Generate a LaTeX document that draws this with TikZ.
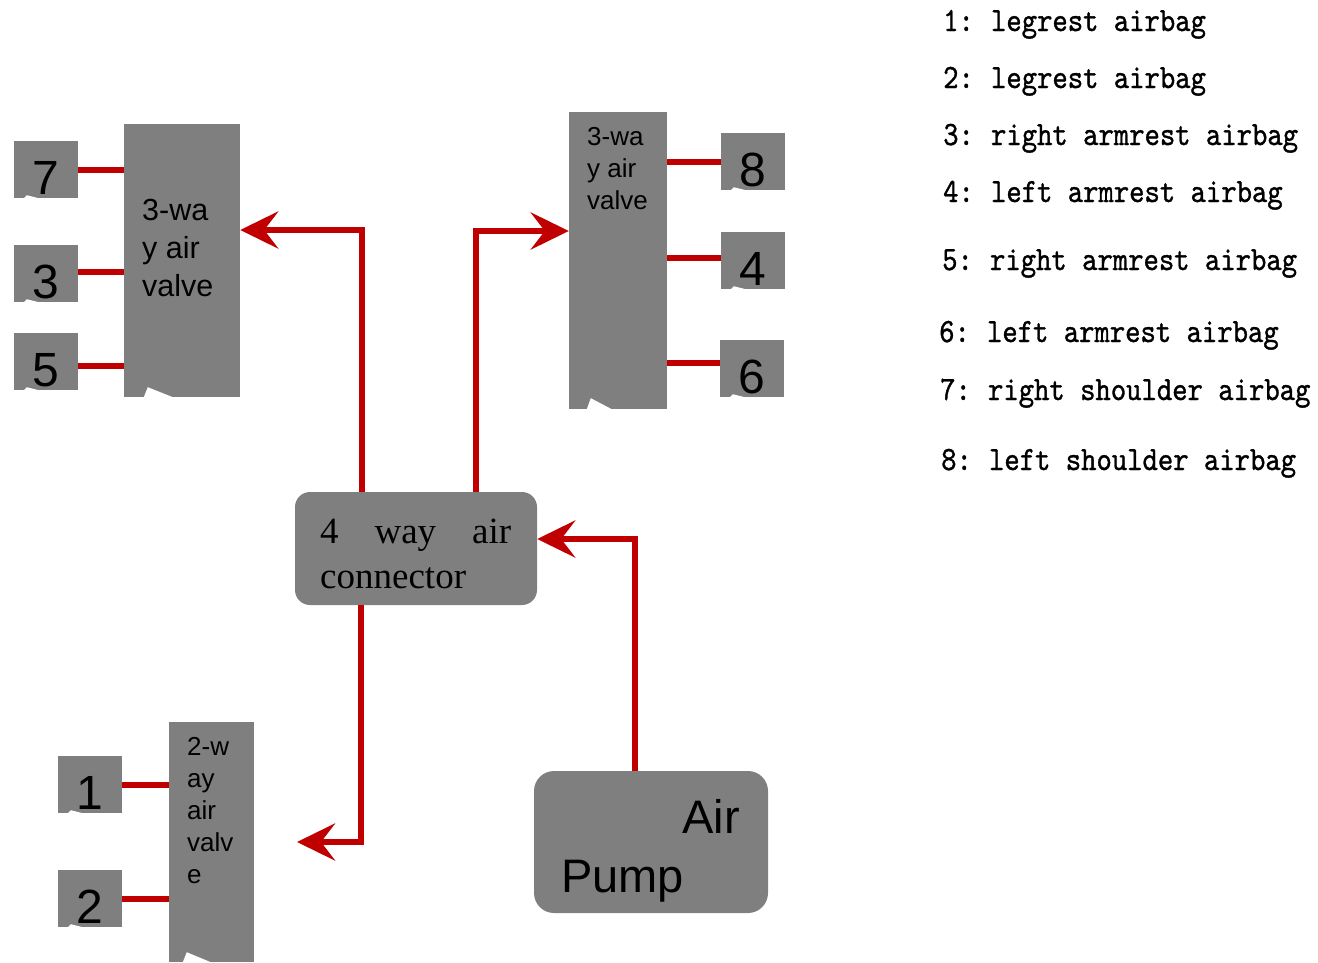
\documentclass[tikz,border=0pt]{standalone}
\usepackage{fontspec}
\setmainfont{Liberation Serif}
\newfontfamily\arialf{Liberation Sans}
\newfontfamily\legendfont{lmmono10-regular.otf}[FakeStretch=0.86,FakeBold=1]
\usetikzlibrary{arrows.meta,calc}
\definecolor{pgray}{HTML}{7F7F7F}
\definecolor{pred}{HTML}{C00000}
\newcommand\lcolon{\makebox[32.5pt][l]{:}}
\tikzset{
  graybox/.style={fill=pgray,draw=none,rectangle,inner sep=0pt},
  numbox/.style={graybox,minimum width=64pt,minimum height=57pt},
  numtxt/.style={font=\arialf\fontsize{48}{48}\selectfont,inner sep=0pt,anchor=base},
  valvetxt/.style={inner sep=0pt,anchor=base west,align=left},
  pipe/.style={draw=pred,line width=6pt,line join=miter},
  arr/.style={pipe,-{Stealth[length=38pt,width=37pt,inset=14pt]}},
  legend/.style={font=\legendfont\fontsize{34}{40}\selectfont,inner sep=0pt,anchor=base west},
  notch/.style={fill=white,draw=none},
}
\begin{document}
\begin{tikzpicture}[x=1pt,y=-1pt]
\useasboundingbox (0,0) rectangle (1318,962);
% valves
\node[graybox,minimum width=116pt,minimum height=273pt] (lv) at (182,260.5) {};
\node[graybox,minimum width=98pt,minimum height=297pt] (rv) at (618,260.5) {};
\node[graybox,minimum width=85pt,minimum height=240pt] (tv) at (211.5,842) {};
\node[valvetxt,font=\arialf\fontsize{30.5}{38}\selectfont] (lvt) at (142,220) {\vtop{\hbox{3-wa}\hbox{y air}\hbox{valve}}};
\node[valvetxt,font=\arialf\fontsize{26}{32}\selectfont] (rvt) at (587,145) {\vtop{\hbox{3-wa}\hbox{y air}\hbox{valve}}};
\node[valvetxt,font=\arialf\fontsize{26}{32}\selectfont] (tvt) at (187,755) {\vtop{\hbox{2-w}\hbox{ay}\hbox{air}\hbox{valv}\hbox{e}}};
% valve notches
\fill[notch] (lv.south west) ++(20,0) -- ++(4,-10) -- ++(25,10) -- cycle;
\fill[notch] (rv.south west) ++(18,0) -- ++(4,-11) -- ++(21,11) -- cycle;
\fill[notch] (tv.south west) ++(14,0) -- ++(4,-10) -- ++(24,10) -- cycle;
% number boxes
\node[numbox] (b7) at (46,169.5) {};
\node[numbox] (b3) at (46,273.5) {};
\node[numbox] (b5) at (46,361.5) {};
\node[numbox] (b8) at (753,161.5) {};
\node[numbox] (b4) at (753,260.5) {};
\node[numbox] (b6) at (752,368.5) {};
\node[numbox] (b1) at (90,784.5) {};
\node[numbox] (b2) at (90,898.5) {};
\foreach \b in {b7,b3,b5,b8,b4,b6,b1,b2}{
  \fill[notch] (\b.south west) ++(10,0) -- ++(3,-3) -- ++(12,3) -- cycle;
}
\node[numtxt] (n7) at ([yshift=4pt]b7.south) {7};
\node[numtxt] (n3) at ([yshift=4pt]b3.south) {3};
\node[numtxt] (n5) at ([yshift=4pt]b5.south) {5};
\node[numtxt] (n8) at ([yshift=4pt]b8.south) {8};
\node[numtxt] (n4) at ([yshift=4pt]b4.south) {4};
\node[numtxt] (n6) at ([yshift=4pt]b6.south) {6};
\node[numtxt] (n1) at ([yshift=4pt]b1.south) {1};
\node[numtxt] (n2) at ([yshift=4pt]b2.south) {2};
% connector and pump
\node[graybox,rounded corners=15pt,minimum width=242pt,minimum height=113pt] (conn) at (416,548.5) {};
\node[inner sep=0pt,anchor=base west,font=\fontsize{37}{45}\selectfont] (connt) at (320,543) {\vtop{\hbox to 191pt{4\hfill way\hfill air}\hbox{connector}}};
\node[graybox,rounded corners=20pt,minimum width=234pt,minimum height=142pt] (pump) at (651,842) {};
\node[inner sep=0pt,anchor=base east,font=\arialf\fontsize{47}{59}\selectfont] (pumpa) at (740,833) {Air};
\node[inner sep=0pt,anchor=base west,font=\arialf\fontsize{47}{59}\selectfont] (pumpb) at (561,892) {Pump};
% short pipes
\draw[pipe] (b7.east) -- (b7.east -| lv.west);
\draw[pipe] ([yshift=1.5pt]b3.east) -- ([yshift=1.5pt]b3.east -| lv.west);
\draw[pipe] ([yshift=-4.5pt]b5.east) -- ([yshift=-4.5pt]b5.east -| lv.west);
\draw[pipe] (b8.west) -- (b8.west -| rv.east);
\draw[pipe] ([yshift=2.5pt]b4.west) -- ([yshift=2.5pt]b4.west -| rv.east);
\draw[pipe] ([yshift=5.5pt]b6.west) -- ([yshift=5.5pt]b6.west -| rv.east);
\draw[pipe] (b1.east) -- (b1.east -| tv.west);
\draw[pipe] (b2.east) -- (b2.east -| tv.west);
% arrows
\draw[arr] ([xshift=-54pt]conn.north) |- ([yshift=30.5pt]lv.east);
\draw[arr] ([xshift=60pt]conn.north) |- ([yshift=29.5pt]rv.west);
\draw[arr] ([xshift=-16pt]pump.north) |- ([yshift=9.5pt]conn.east);
\coordinate (tip) at (297,842);
\draw[arr] ([xshift=-55pt]conn.south) |- (tip);
% legend
\node[legend] (l1) at (943,31) {1\lcolon legrest airbag};
\node[legend] (l2) at (943,88) {2\lcolon legrest airbag};
\node[legend] (l3) at (943,145) {3\lcolon right armrest airbag};
\node[legend] (l4) at (943,202) {4\lcolon left armrest airbag};
\node[legend] (l5) at (942,270) {5\lcolon right armrest airbag};
\node[legend] (l6) at (939,342) {6\lcolon left armrest airbag};
\node[legend] (l7) at (940,400) {7\lcolon right shoulder airbag};
\node[legend] (l8) at (941,470) {8\lcolon left shoulder airbag};
\end{tikzpicture}
\end{document}
